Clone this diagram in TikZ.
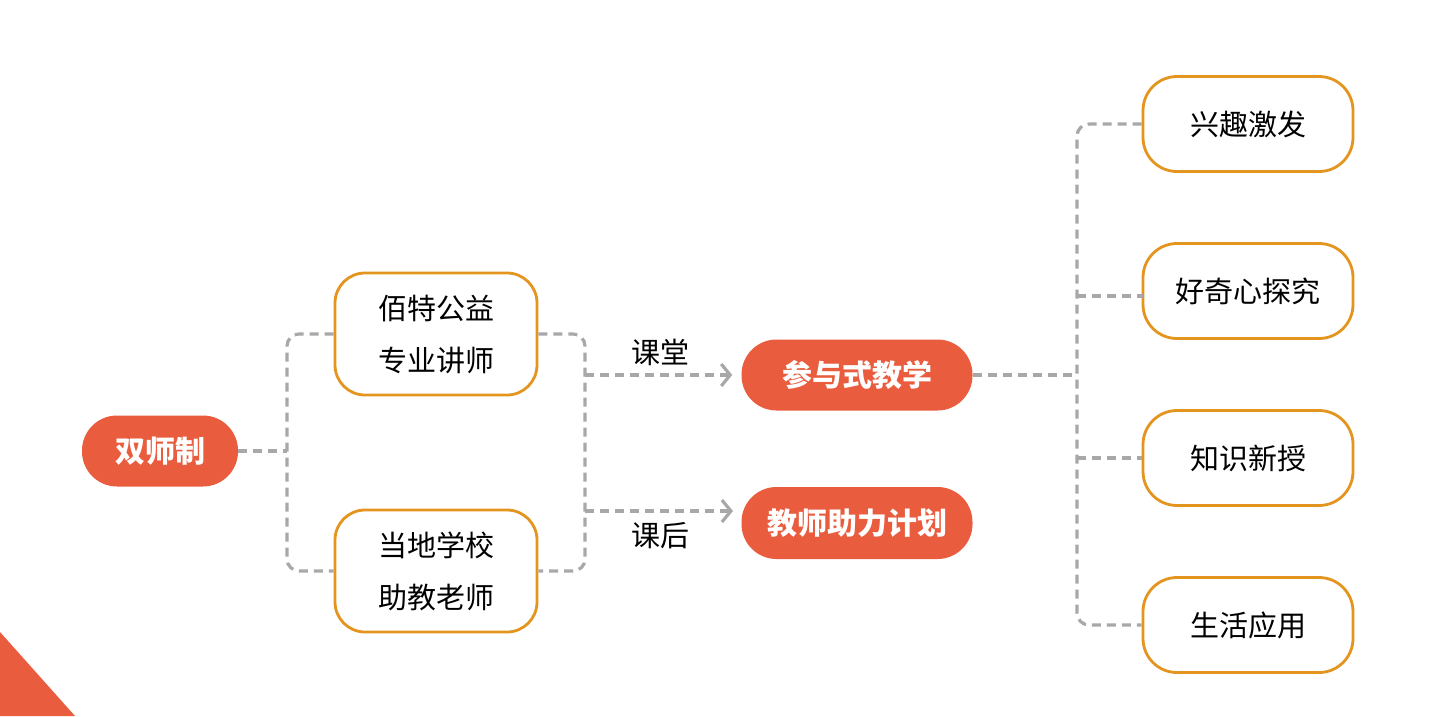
\documentclass[tikz,border=0pt]{standalone}
\usepackage{fontspec}
\setmainfont{Noto Sans CJK SC}
\usetikzlibrary{arrows.meta}
\definecolor{accent}{HTML}{E95C3E}
\definecolor{gold}{HTML}{E4951F}
\definecolor{linkgray}{HTML}{A8A8A8}
\begin{document}
\begin{tikzpicture}[x=1pt,y=-1pt,
  pill/.style={fill=accent, rounded corners=35pt, inner sep=0pt, text=white,
    font=\fontsize{30}{36}\selectfont\bfseries},
  whitebox/.style={draw=gold, line width=2.8pt, fill=white, inner sep=0pt, align=center,
    font=\fontsize{29}{52}\selectfont},
  conn/.style={draw=linkgray, line width=3.2pt, dash pattern=on 9pt off 6pt, rounded corners=12pt},
  arr/.style={conn, -{Straight Barb[length=9pt,width=22pt,line width=3.2pt]}, shorten >=9pt},
  lbl/.style={inner sep=0pt, font=\fontsize{29}{34}\selectfont}
]
\useasboundingbox (0,0) rectangle (1446,716);
\fill[accent] (0,632) -- (75,716) -- (0,716) -- cycle;

% nodes
\node[pill, minimum width=156pt, minimum height=71pt] (d) at (160,451) {双师制};
\node[whitebox, rounded corners=30pt, minimum width=202pt, minimum height=122pt] (a) at (436,334) {佰特公益\\专业讲师};
\node[whitebox, rounded corners=30pt, minimum width=202pt, minimum height=122pt] (b) at (436,571) {当地学校\\助教老师};
\node[pill, minimum width=231pt, minimum height=71pt] (p) at (857,375) {参与式教学};
\node[pill, minimum width=231pt, minimum height=72pt] (q) at (857,523) {教师助力计划};
\node[whitebox, rounded corners=34pt, minimum width=210pt, minimum height=95pt] (r1) at (1248,124) {兴趣激发};
\node[whitebox, rounded corners=34pt, minimum width=210pt, minimum height=95pt] (r2) at (1248,291) {好奇心探究};
\node[whitebox, rounded corners=34pt, minimum width=210pt, minimum height=95pt] (r3) at (1248,458) {知识新授};
\node[whitebox, rounded corners=34pt, minimum width=210pt, minimum height=95pt] (r4) at (1248,625) {生活应用};
\node[lbl] (l1) at (660,352) {课堂};
\node[lbl] (l2) at (660,536) {课后};

% junctions
\coordinate (j1) at (287,451);
\coordinate (j2) at (585,375);
\coordinate (j3) at (585,511);
\coordinate (j4) at (1077,375);
\coordinate (q2) at (742,511);
\coordinate (r2w) at (1143,296);

% connectors
\draw[conn] (d.east) -- (j1);
\draw[conn] (a.west) -- (a.west -| j1) -- (b.west -| j1) -- (b.west);
\draw[conn] (a.east) -- (a.east -| j2) -- (b.east -| j2) -- (b.east);
\draw[arr] (j2) -- (p.west);
\draw[arr] (j3) -- (q2);
\draw[conn] (p.east) -- (j4);
\draw[conn] (r1.west) -- (r1.west -| j4) -- (r4.west -| j4) -- (r4.west);
\draw[conn] (r2w -| j4) -- (r2w);
\draw[conn] (r3.west -| j4) -- (r3.west);
\end{tikzpicture}
\end{document}
